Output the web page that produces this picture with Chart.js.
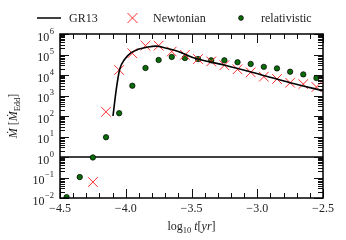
<!DOCTYPE html>
<html>
<head>
<meta charset="utf-8">
<script src="https://cdn.jsdelivr.net/npm/chart.js@4.4.0/dist/chart.umd.min.js"></script>
<style>
html, body { margin: 0; padding: 0; background: #fff; }
#wrap { width: 346px; height: 240px; }
</style>
</head>
<body>
<div id="wrap"><canvas id="chart"></canvas></div>
<script>
// log10 t [yr] of the sampled points
var relT = [-4.45, -4.35, -4.25, -4.15, -4.05, -3.95, -3.85, -3.75, -3.65, -3.55,
            -3.45, -3.35, -3.25, -3.15, -3.05, -2.95, -2.85, -2.75, -2.65, -2.55];
var relativistic = [0.011, 0.105, 0.95, 9.2, 137, 3000, 22000, 54000, 76000, 67000,
                    60000, 52000, 52000, 42000, 34600, 25000, 21000, 14500, 10700, 7100];

var newtT = [-4.25, -4.15, -4.05, -3.95, -3.85, -3.75, -3.65, -3.55, -3.45,
             -3.35, -3.25, -3.15, -3.05, -2.95, -2.85, -2.75, -2.65, -2.55];
var newtonian = [0.06, 160, 17500, 115000, 270000, 270000, 140000, 96000, 60000,
                 46000, 30000, 19000, 13500, 8300, 6400, 4200, 3600, 2600];

var grT = [-4.097, -4.072, -4.046, -4.008, -3.958, -3.907, -3.831, -3.77, -3.69,
           -3.60, -3.486, -3.245, -2.979, -2.75, -2.5];
var gr13 = [100, 2000, 19000, 59000, 123000, 178000, 234000, 257000, 200000,
            141000, 69000, 30000, 10700, 4200, 1700];

var eddT = [-4.5, -2.5];
var eddington = [1, 1];

var xTickLabels = [-4.5, -4.0, -3.5, -3.0, -2.5];
var yDecades = [-2, -1, 0, 1, 2, 3, 4, 5, 6];

var FONT = "'Liberation Serif', 'DejaVu Serif', serif";

function pairs(xs, ys) {
    return xs.map(function (x, i) { return {x: x, y: ys[i]}; });
}

// frame, inward ticks, y labels, axis titles and legend, matplotlib style
var decorations = {
    id: 'decorations',
    afterDatasetsDraw: function (chart) {
        var ctx = chart.ctx;
        var a = chart.chartArea;
        var xs = chart.scales.x;
        var ys = chart.scales.y;
        ctx.save();

        ctx.strokeStyle = '#111';
        ctx.lineWidth = 1;
        for (var i = -45; i <= -25; i++) {
            var px = Math.round(xs.getPixelForValue(i / 10)) + 0.5;
            var len = (i % 5 === 0) ? 9 : 5;
            ctx.beginPath();
            ctx.moveTo(px, a.bottom); ctx.lineTo(px, a.bottom - len);
            ctx.moveTo(px, a.top); ctx.lineTo(px, a.top + len);
            ctx.stroke();
        }
        yDecades.forEach(function (d) {
            for (var m = 1; m <= 9; m++) {
                if (d === 6 && m > 1) break;
                var py = Math.round(ys.getPixelForValue(m * Math.pow(10, d))) + 0.5;
                var len = (m === 1) ? 9 : 5;
                ctx.beginPath();
                ctx.moveTo(a.left, py); ctx.lineTo(a.left + len, py);
                ctx.moveTo(a.right, py); ctx.lineTo(a.right - len, py);
                ctx.stroke();
            }
        });

        ctx.strokeStyle = '#000';
        ctx.lineWidth = 1.5;
        ctx.strokeRect(a.left, a.top, a.right - a.left, a.bottom - a.top);

        // y tick labels 10^n
        ctx.fillStyle = '#222';
        ctx.textBaseline = 'alphabetic';
        yDecades.forEach(function (d) {
            var py = ys.getPixelForValue(Math.pow(10, d));
            var exp = (d < 0 ? '\u2212' : '') + Math.abs(d);
            ctx.font = '8.5px ' + FONT;
            ctx.textAlign = 'right';
            var right = a.left - 6;
            ctx.fillText(exp, right, py - 0.5);
            var ew = ctx.measureText(exp).width;
            ctx.font = '12px ' + FONT;
            ctx.fillText('10', right - ew - 0.5, py + 6.5);
        });

        // x title: log10 t[yr]
        var parts = [
            {t: 'log', f: '12px ' + FONT, dy: 0},
            {t: '10', f: '8.5px ' + FONT, dy: 3},
            {t: ' ', f: '12px ' + FONT, dy: 0},
            {t: 't', f: 'italic 12px ' + FONT, dy: 0},
            {t: '[', f: '12px ' + FONT, dy: 0},
            {t: 'yr', f: 'italic 12px ' + FONT, dy: 0},
            {t: ']', f: '12px ' + FONT, dy: 0}
        ];
        drawParts(ctx, parts, (a.left + a.right) / 2, 230);

        // y title: M-dot [M-dot_Edd]
        ctx.save();
        ctx.translate(17, (a.top + a.bottom) / 2);
        ctx.rotate(-Math.PI / 2);
        drawParts(ctx, [
            {t: '\u1E40', f: 'italic 12px ' + FONT, dy: 0},
            {t: ' [', f: '12px ' + FONT, dy: 0},
            {t: '\u1E40', f: 'italic 12px ' + FONT, dy: 0},
            {t: 'Edd', f: '8.5px ' + FONT, dy: 3},
            {t: ']', f: '12px ' + FONT, dy: 0}
        ], 0, 0);
        ctx.restore();

        // legend
        var ly = 18;
        ctx.strokeStyle = '#000';
        ctx.lineWidth = 1.5;
        ctx.beginPath(); ctx.moveTo(37, ly); ctx.lineTo(61, ly); ctx.stroke();
        ctx.strokeStyle = '#ff2a2a';
        ctx.lineWidth = 1;
        ctx.beginPath();
        ctx.moveTo(127.5, ly - 5); ctx.lineTo(137.5, ly + 5);
        ctx.moveTo(137.5, ly - 5); ctx.lineTo(127.5, ly + 5);
        ctx.stroke();
        ctx.fillStyle = '#0b6b0b';
        ctx.strokeStyle = '#000';
        ctx.lineWidth = 0.7;
        ctx.beginPath(); ctx.arc(241, ly, 2.4, 0, 2 * Math.PI); ctx.fill(); ctx.stroke();
        ctx.fillStyle = '#222';
        ctx.font = '12px ' + FONT;
        ctx.textAlign = 'left';
        ctx.fillText('GR13', 69, ly + 4);
        ctx.fillText('Newtonian', 153, ly + 4);
        ctx.fillText('relativistic', 261, ly + 4);

        ctx.restore();
    }
};

function drawParts(ctx, parts, cx, baseY) {
    var total = 0;
    parts.forEach(function (p) { ctx.font = p.f; p.w = ctx.measureText(p.t).width; total += p.w; });
    var x = cx - total / 2;
    ctx.textAlign = 'left';
    ctx.fillStyle = '#222';
    parts.forEach(function (p) {
        ctx.font = p.f;
        ctx.fillText(p.t, x, baseY + p.dy);
        x += p.w;
    });
}

new Chart(document.getElementById('chart'), {
    type: 'line',
    data: {
        datasets: [{
            label: 'GR13',
            data: pairs(grT, gr13),
            borderColor: '#000',
            borderWidth: 1.6,
            pointRadius: 0,
            cubicInterpolationMode: 'monotone',
        }, {
            label: 'Newtonian',
            data: pairs(newtT, newtonian),
            showLine: false,
            pointStyle: 'crossRot',
            pointRadius: 6.8,
            borderColor: '#ff2a2a',
            borderWidth: 1,
        }, {
            label: 'relativistic',
            data: pairs(relT, relativistic),
            showLine: false,
            pointStyle: 'circle',
            pointRadius: 2.7,
            backgroundColor: '#0b6b0b',
            borderColor: '#000',
            borderWidth: 0.7,
        }, {
            label: 'Eddington',
            data: pairs(eddT, eddington),
            borderColor: '#000',
            borderWidth: 1.4,
            pointRadius: 0,
        }]
    },
    options: {
        responsive: true,
        maintainAspectRatio: false,
        animation: false,
        events: [],
        layout: { padding: { top: 34, right: 23, left: 0, bottom: 0 } },
        plugins: { legend: { display: false }, tooltip: { enabled: false } },
        scales: {
            x: {
                type: 'linear',
                min: -4.5,
                max: -2.5,
                grid: { display: false, drawTicks: false },
                border: { display: false },
                afterBuildTicks: function (scale) {
                    scale.ticks = xTickLabels.map(function (v) { return {value: v}; });
                },
                afterFit: function (scale) { scale.height = 42; },
                ticks: {
                    maxRotation: 0,
                    autoSkip: false,
                    padding: 4,
                    color: '#222',
                    font: { family: FONT, size: 12 },
                    callback: function (v) { return (v < 0 ? '\u2212' : '') + Math.abs(v).toFixed(1); }
                }
            },
            y: {
                type: 'logarithmic',
                min: 0.01,
                max: 1e6,
                grid: { display: false, drawTicks: false },
                border: { display: false },
                ticks: { display: false },
                afterFit: function (scale) { scale.width = 60; }
            }
        }
    },
    plugins: [decorations]
});
</script>
</body>
</html>
